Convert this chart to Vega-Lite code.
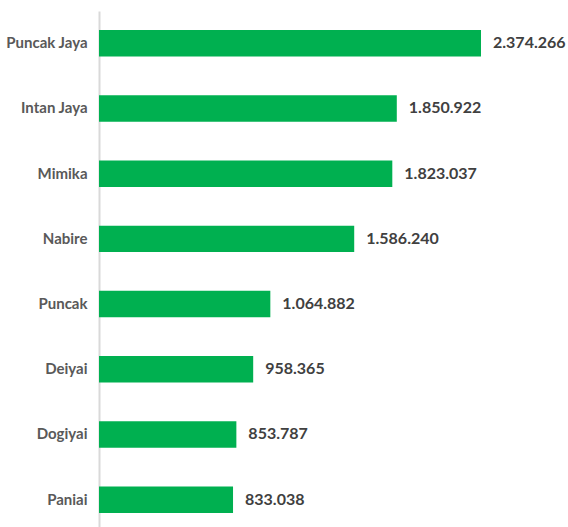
{
  "$schema": "https://vega.github.io/schema/vega-lite/v6.json",
  "width": 450,
  "height": 516,
  "autosize": {"type": "none"},
  "padding": {"left": 99, "top": 11, "right": 19, "bottom": 0},
  "background": "white",
  "config": {
    "view": {"stroke": null},
    "locale": {
      "number": {"decimal": ",", "thousands": ".", "grouping": [3], "currency": ["Rp", ""]}
    }
  },
  "data": {
    "values": [
      {"kabupaten": "Puncak Jaya", "nilai": 2374266},
      {"kabupaten": "Intan Jaya", "nilai": 1850922},
      {"kabupaten": "Mimika", "nilai": 1823037},
      {"kabupaten": "Nabire", "nilai": 1586240},
      {"kabupaten": "Puncak", "nilai": 1064882},
      {"kabupaten": "Deiyai", "nilai": 958365},
      {"kabupaten": "Dogiyai", "nilai": 853787},
      {"kabupaten": "Paniai", "nilai": 833038}
    ]
  },
  "encoding": {
    "y": {
      "field": "kabupaten",
      "type": "nominal",
      "sort": {"field": "nilai", "order": "descending"},
      "scale": {"paddingInner": 0.594, "paddingOuter": 0.254, "align": 0.575},
      "axis": {
        "title": null,
        "ticks": false,
        "domainColor": "#d9d9d9",
        "domainWidth": 2,
        "labelPadding": 12,
        "labelFont": "Lato",
        "labelFontSize": 15,
        "labelFontWeight": "bold",
        "labelColor": "#595959"
      }
    },
    "x": {
      "field": "nilai",
      "type": "quantitative",
      "scale": {"domain": [0, 2796910], "nice": false},
      "axis": null
    }
  },
  "layer": [
    {"mark": {"type": "bar", "color": "#00b050"}},
    {
      "mark": {
        "type": "text",
        "align": "left",
        "baseline": "middle",
        "dx": 12,
        "font": "Lato",
        "fontSize": 16,
        "fontWeight": "bold",
        "color": "#404040"
      },
      "encoding": {
        "text": {"field": "nilai", "type": "quantitative", "format": ",d"}
      }
    }
  ]
}
